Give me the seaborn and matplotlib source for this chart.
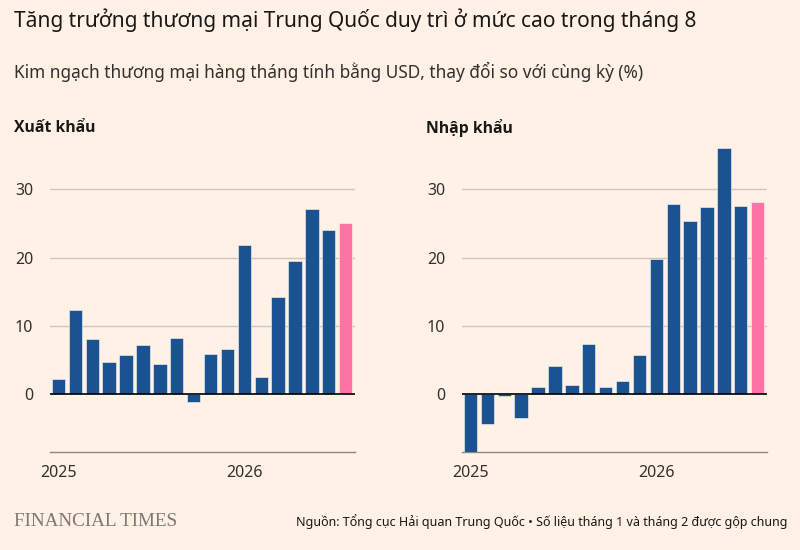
import matplotlib
matplotlib.use("Agg")
import matplotlib.pyplot as plt
import seaborn as sns
import pandas as pd

# ---- data ----
periods = list(range(18))
tick_positions = [0, 11]
tick_labels = ["2025", "2026"]
exports = [2.3, 12.4, 8.1, 4.8, 5.8, 7.2, 4.4, 8.3, -1.1, 5.9, 6.6, 21.9,
           2.5, 14.2, 19.5, 27.1, 24.0, 25.1]
imports = [-8.5, -4.3, -0.2, -3.4, 1.1, 4.1, 1.3, 7.3, 1.0, 1.9, 5.7, 19.8,
           27.8, 25.3, 27.4, 36.0, 27.5, 28.2]
y_ticks = [0, 10, 20, 30]

title = "Tăng trưởng thương mại Trung Quốc duy trì ở mức cao trong tháng 8"
subtitle = "Kim ngạch thương mại hàng tháng tính bằng USD, thay đổi so với cùng kỳ (%)"
panel_titles = ["Xuất khẩu", "Nhập khẩu"]
source = "Nguồn: Tổng cục Hải quan Trung Quốc • Số liệu tháng 1 và tháng 2 được gộp chung"

BG = "#FFF1E5"
BLUE = "#1A5292"
PINK = "#FF73A5"
GRID = "#CFC5BC"
TEXT = "#1A1817"

sns.set_theme(style="white")
plt.rcParams["font.family"] = ["Noto Sans", "DejaVu Sans"]

fig = plt.figure(figsize=(8, 5.5), dpi=100, facecolor=BG)
W, H = 800, 550

def ax_rect(x0, x1, ytop, ybot):
    return [x0 / W, 1 - ybot / H, (x1 - x0) / W, (ybot - ytop) / H]

ylo, yhi = -8.5, 36.5
px_per_unit = (394.3 - 189.3) / 30
ytop_px = 394.3 - yhi * px_per_unit
ybot_px = 394.3 - ylo * px_per_unit

rects = [ax_rect(50, 355, ytop_px, ybot_px), ax_rect(462, 767, ytop_px, ybot_px)]
series = [exports, imports]
colors = [BLUE] * 17 + [PINK]

for rect, vals in zip(rects, series):
    ax = fig.add_axes(rect)
    ax.set_facecolor(BG)
    df = pd.DataFrame({"p": [str(p) for p in periods], "v": vals})
    sns.barplot(data=df, x="p", y="v", hue="p", palette=colors, legend=False,
                saturation=1, width=0.79, ax=ax, edgecolor="#FFF8F0",
                linewidth=0.4, zorder=3)
    ax.set_xlim(-0.5, 17.55)
    ax.set_ylim(ylo, yhi)
    for yt in y_ticks[1:]:
        ax.axhline(yt, color=GRID, lw=1.0, zorder=1)
    ax.axhline(0, color="black", lw=1.2, zorder=4)
    for s in ["top", "right", "left"]:
        ax.spines[s].set_visible(False)
    ax.spines["bottom"].set_color("#8E8782")
    ax.spines["bottom"].set_linewidth(1.0)
    ax.set_yticks(y_ticks)
    ax.set_yticklabels([str(t) for t in y_ticks])
    ax.tick_params(axis="y", length=0, pad=12, labelsize=11.5, labelcolor="#333030")
    ax.set_xticks(tick_positions)
    ax.set_xticklabels(tick_labels)
    ax.tick_params(axis="x", length=5, width=1, color="#8E8782", pad=4,
                   labelsize=11.5, labelcolor="#333030")
    ax.set_xlabel("")
    ax.set_ylabel("")
    ax.grid(False)

fig.text(14 / W, 1 - 20 / H, title, fontsize=15, color=TEXT, ha="left", va="center")
fig.text(14 / W, 1 - 72 / H, subtitle, fontsize=12.4, color="#33302E", ha="left", va="center")
for xp, pt in zip([14, 426], panel_titles):
    fig.text(xp / W, 1 - 128 / H, pt, fontsize=11.3, fontweight="bold",
             family=["Open Sans", "Noto Sans", "DejaVu Sans"],
             color=TEXT, ha="left", va="center")
fig.text(14 / W, 1 - 522 / H, "FINANCIAL TIMES", fontsize=13.8,
         family=["Liberation Serif", "DejaVu Serif"], color="#7E7873",
         ha="left", va="center")
fig.text(787 / W, 1 - 522 / H, source, fontsize=9, color="#1A1817",
         ha="right", va="center")

fig.savefig("out.png", dpi=100, facecolor=BG)
